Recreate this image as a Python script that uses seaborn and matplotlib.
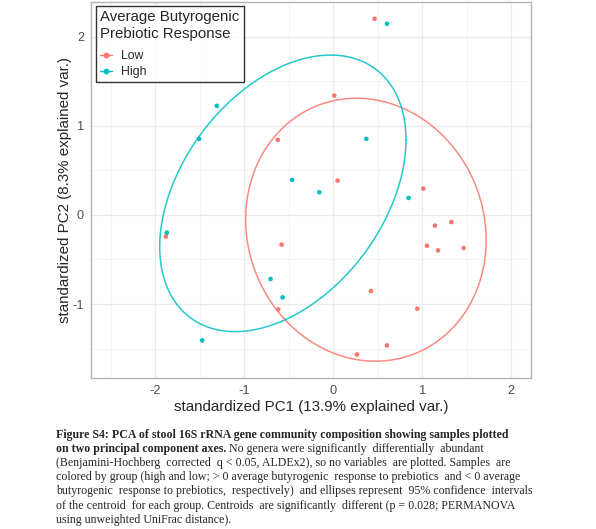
import numpy as np
import pandas as pd
import seaborn as sns
from matplotlib import pyplot as plt
from matplotlib.lines import Line2D

# PCA scores
low_pc1 = [-0.622, 0.011, 0.049, 0.464, 1.011, -1.880, -0.580, -0.618, 1.142,
           1.326, 1.052, 1.176, 1.464, 0.423, 0.944, 0.603, 0.266]
low_pc2 = [0.843, 1.340, 0.386, 2.202, 0.296, -0.243, -0.333, -1.060, -0.120,
           -0.079, -0.345, -0.397, -0.371, -0.854, -1.052, -1.464, -1.566]
high_pc1 = [-1.307, -1.506, -0.461, -0.157, 0.603, 0.371, 0.846, -1.869, -0.704,
            -0.569, -1.472]
high_pc2 = [1.225, 0.854, 0.393, 0.255, 2.146, 0.854, 0.191, -0.199, -0.719,
            -0.925, -1.408]
groups = ["Low", "High"]
colors = {"Low": "#F8766D", "High": "#00BFC4"}

df = pd.DataFrame({
    "PC1": low_pc1 + high_pc1,
    "PC2": low_pc2 + high_pc2,
    "group": ["Low"] * len(low_pc1) + ["High"] * len(high_pc1),
})

sns.set_style("white")
plt.rcParams["font.family"] = ["Liberation Sans", "DejaVu Sans"]
plt.rcParams["axes.unicode_minus"] = False

fig = plt.figure(figsize=(5.96, 5.29), dpi=100)
ax = fig.add_axes([91 / 596, 1 - 378 / 529, 440 / 596, 376 / 529])

# grid like theme_bw
ax.set_xlim(-2.72, 2.22)
ax.set_ylim(-1.83, 2.39)
ax.set_xticks([-2, -1, 0, 1, 2])
ax.set_yticks([-1, 0, 1, 2])
ax.set_xticks(np.arange(-2.5, 2.3, 0.5), minor=True)
ax.set_yticks(np.arange(-1.5, 2.4, 0.5), minor=True)
ax.grid(True, which="major", color="#EBEBEB", lw=0.9)
ax.grid(True, which="minor", color="#F2F2F2", lw=0.6)
ax.set_axisbelow(True)
for s in ax.spines.values():
    s.set_color("#B3B3B3")
    s.set_linewidth(1.0)
ax.tick_params(which="major", length=3, width=0.8, color="#333333",
               labelsize=9.2, labelcolor="#4D4D4D", pad=2)
ax.tick_params(which="minor", length=0)

# 68% normal ellipses (ggbiplot default)
t = np.linspace(0, 2 * np.pi, 200)
circle = np.column_stack([np.cos(t), np.sin(t)])
ed = np.sqrt(-2 * np.log(1 - 0.68))
for g in groups:
    sub = df[df["group"] == g]
    xy = sub[["PC1", "PC2"]].values
    sigma = np.cov(xy.T)
    mu = xy.mean(axis=0)
    ell = circle @ np.linalg.cholesky(sigma).T * ed + mu
    ax.plot(ell[:, 0], ell[:, 1], color=colors[g], lw=1.1, alpha=0.85)

sns.scatterplot(data=df, x="PC1", y="PC2", hue="group", palette=colors,
                s=11, linewidth=0, ax=ax, legend=False, zorder=3)

ax.set_xlabel("standardized PC1 (13.9% explained var.)", fontsize=10.9, labelpad=2)
ax.set_ylabel("standardized PC2 (8.3% explained var.)", fontsize=10.9, labelpad=0.5)

handles = [Line2D([0], [0], color=colors[g], marker="o", markersize=3.2, lw=1.0)
           for g in groups]
leg = ax.legend(handles, groups, title="Average Butyrogenic\nPrebiotic Response",
                loc="upper left", bbox_to_anchor=(0.011, 0.989), borderaxespad=0,
                fontsize=8.8, title_fontsize=10.8, handlelength=0.95,
                handletextpad=0.75, labelspacing=0.3, borderpad=0.35,
                fancybox=False, frameon=True)
leg._legend_box.align = "left"
leg._legend_box.sep = 7
leg.get_frame().set_edgecolor("black")
leg.get_frame().set_linewidth(1.0)

# caption
cap = [
    [("Figure S4: PCA of stool 16S rRNA gene community composition showing samples plotted", "bold")],
    [("on two principal component axes.", "bold"),
     (" No genera were significantly  differentially  abundant", "normal")],
    [("(Benjamini-Hochberg  corrected  q < 0.05, ALDEx2), so no variables  are plotted. Samples  are", "normal")],
    [("colored by group (high and low; > 0 average butyrogenic  response to prebiotics  and < 0 average", "normal")],
    [("butyrogenic  response to prebiotics,  respectively)  and ellipses represent  95% confidence  intervals", "normal")],
    [("of the centroid  for each group. Centroids  are significantly  different (p = 0.028; PERMANOVA", "normal")],
    [("using unweighted UniFrac distance).", "normal")],
]
fig.canvas.draw()
r = fig.canvas.get_renderer()
y0 = 435
for line in cap:
    x = 56
    for txt, w in line:
        tt = fig.text(x / 596, 1 - y0 / 529, txt, fontsize=8.6, fontweight=w,
                      family="Liberation Serif", va="center", ha="left")
        x += tt.get_window_extent(renderer=r).width
    y0 += 14.1

fig.savefig("out.png", dpi=100)
